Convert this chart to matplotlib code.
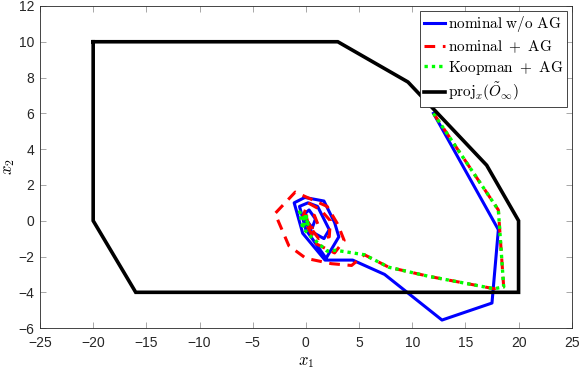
import numpy as np
import matplotlib
matplotlib.use("Agg")
import matplotlib.pyplot as plt

plt.rcParams['mathtext.fontset'] = 'cm'
plt.rcParams['font.family'] = ['Liberation Sans', 'DejaVu Sans']

# trajectories (x1, x2)
nominal_x1 = [12.0, 18.1, 17.5, 12.8, 7.4, 4.4, 1.8, -0.3, -1.1, -0.1, 1.7, 2.7, 3.1,
              1.9, 0.0, -0.6, 0.2, 1.1, 2.2, 1.7, 0.5, -0.3, 0.3, 0.9, 0.6, 0.1]
nominal_x2 = [6.0, -0.5, -4.6, -5.55, -3.0, -2.2, -2.2, -0.7, 1.0, 1.3, 1.1, -0.1, -0.9,
              -2.1, -0.5, 0.8, 1.0, 0.8, -0.5, -1.0, -0.6, 0.3, 0.6, 0.1, -0.4, 0.0]

nominal_ag_x1 = [12.0, 18.1, 18.6, 17.7, 11.5, 7.8, 5.5, 4.3, 2.4, 0.0, -1.6, -2.9, -1.0,
                 0.5, 2.0, 3.0, 3.6, 2.7, 1.0, -0.3, 0.2, 1.4, 2.3, 2.2, 1.2, 0.2, 0.0,
                 0.8, 1.2, 0.5, 0.1]
nominal_ag_x2 = [6.0, 0.6, -3.7, -3.8, -3.1, -2.6, -1.9, -2.5, -2.4, -2.1, -1.4, 0.4, 1.6,
                 1.2, 0.8, -0.2, -1.1, -1.8, -1.3, 0.2, 1.0, 0.6, 0.0, -0.9, -1.0, -0.2, 0.4,
                 0.3, -0.3, -0.4, 0.0]

koopman_x1 = [12.0, 18.1, 18.6, 17.7, 11.5, 7.8, 5.5, 2.8, 2.0, 0.5, -0.3, -0.6, 0.2,
              -0.4, 0.3, -0.2, 0.1, 0.0]
koopman_x2 = [6.0, 0.6, -3.7, -3.8, -3.1, -2.6, -1.9, -1.65, -1.7, -0.9, -0.4, 0.5, -0.2,
              0.3, 0.1, -0.3, 0.4, 0.0]

# projection of the invariant set
proj_x1 = [-20, 3, 9.6, 17, 20, 20, -16, -20, -20]
proj_x2 = [10, 10, 7.75, 3.1, 0, -4, -4, 0, 10]

fig = plt.figure(figsize=(5.84, 3.72), dpi=100)
ax = fig.add_axes([0.0685, 0.118, 0.9105, 0.866])

ax.plot(nominal_x1, nominal_x2, color=(0, 0, 1), lw=2.2, label=r'$\mathrm{nominal\ w/o\ AG}$')
ax.plot(nominal_ag_x1, nominal_ag_x2, color=(1, 0, 0), lw=2.2, ls=(0, (3.5, 2.5)),
        label=r'$\mathrm{nominal\ +\ AG}$')
ax.plot(koopman_x1, koopman_x2, color=(0, 1, 0), lw=2.4, ls=(0, (1, 1.2)),
        label=r'$\mathrm{Koopman\ +\ AG}$')
ax.plot(proj_x1, proj_x2, color='k', lw=2.6, solid_joinstyle='miter',
        label=r'$\mathrm{proj}_x(\tilde{O}_\infty)$')

ax.set_xlim(-25, 25)
ax.set_ylim(-6, 12)
ax.set_xticks(np.arange(-25, 26, 5))
ax.set_yticks(np.arange(-6, 13, 2))
ax.tick_params(direction='in', top=True, right=True, length=4, width=0.6,
               color='0.6', labelsize=10, labelcolor='0.15')
ax.tick_params(axis='x', pad=6)
ax.tick_params(axis='y', pad=4)
for s in ax.spines.values():
    s.set_color('0.15')
    s.set_linewidth(0.6)

ax.set_xlabel(r'$x_1$', fontsize=12, labelpad=3)
ax.set_ylabel(r'$x_2$', fontsize=12, labelpad=1)

leg = ax.legend(loc='upper right', fontsize=11, handlelength=1.4, handletextpad=0.2,
                borderpad=0.25, labelspacing=0.25, borderaxespad=0.3,
                fancybox=False, framealpha=1)
leg.get_frame().set_edgecolor('0.15')
leg.get_frame().set_linewidth(0.6)

fig.savefig('out.png', dpi=100)
